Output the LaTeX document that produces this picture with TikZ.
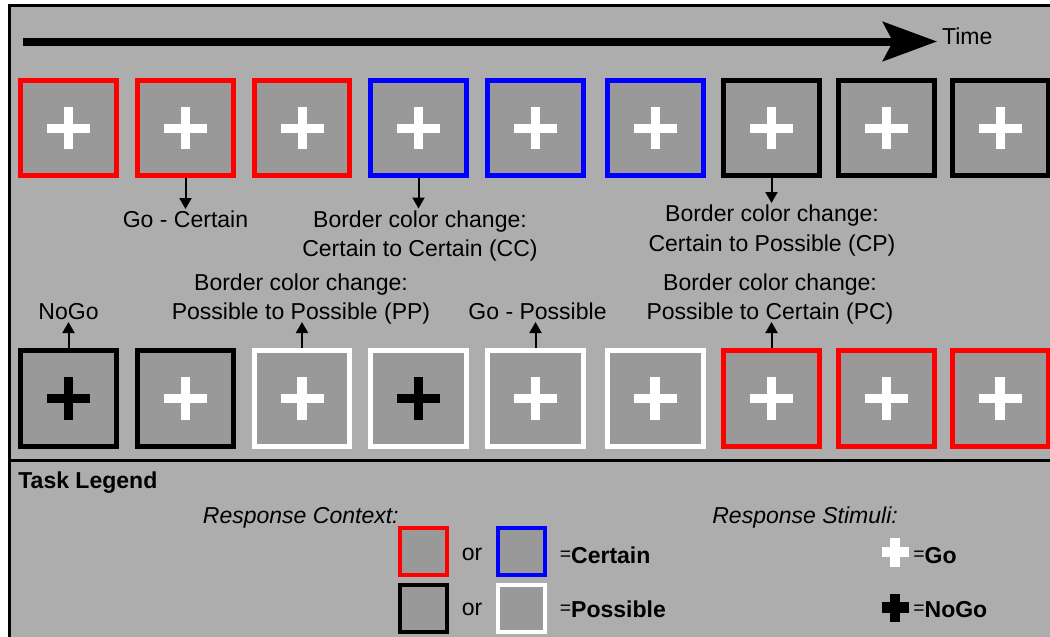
\documentclass[tikz,border=0pt]{standalone}
\usepackage{fontspec}
\setmainfont{Liberation Sans}
\usetikzlibrary{arrows.meta}
\definecolor{panel}{HTML}{ADADAD}
\definecolor{screen}{HTML}{999999}
\newcommand\eqsign{\raisebox{1.2pt}{\fontsize{11}{11}\selectfont=}}
\tikzset{
  screenbox/.style={fill=screen, line width=0.1cm, minimum size=1.92cm, inner sep=0pt},
  keybox/.style={fill=screen, line width=0.08cm, minimum size=0.94cm, inner sep=0pt},
  cue/.style={font=\fontsize{13.1}{16.8}\selectfont, align=center, inner sep=1pt, text depth=0pt},
  pointer/.style={line width=0.04cm, -{Triangle[length=0.22cm,width=0.24cm]}},
  timeline/.style={line width=0.16cm, -{Stealth[length=1.08cm,width=0.78cm,inset=0.2cm]}}
}
\begin{document}
\begin{tikzpicture}[x=0.02cm, y=-0.02cm]
      \useasboundingbox (0,0) rectangle (1050,636);
      \fill[white] (0,0) rectangle (1050,636);
      \fill[panel] (9.5,5.3) rectangle (1052,640);
      \draw[line width=0.06cm] (9.5,640) -- (9.5,5.3) -- (1052,5.3);
      \draw[line width=0.06cm] (9.5,460.5) -- (1052,460.5);
      % time axis
      \coordinate (t0) at (23,41.5);
      \node[cue, anchor=west] (time) at (940,36) {Time};
      \draw[timeline, shorten >=0.06cm] (t0) -- (t0 -| time.west);
      % upper sequence
      \foreach \x/\c [count=\i] in{%
        68.5/red, 185.5/red, 302/red,
        418.5/blue, 535.5/blue, 655/blue,
        771.5/black, 886.5/black, 1000/black%
      }{
        \node[screenbox, draw=\c] (t\i) at (\x,128) {};
        \draw[white, line width=0.18cm] (t\i.center) ++(-0.43cm,0) -- ++(0.86cm,0)
          (t\i.center) ++(0,-0.43cm) -- ++(0,0.86cm);
      }
      % lower sequence
      \foreach \x/\c/\p [count=\i] in{%
        68.5/black/black, 185.5/black/white, 302/white/white,
        418.5/white/black, 535.5/white/white, 655/white/white,
        771.5/red/white, 886.5/red/white, 1000/red/white%
      }{
        \node[screenbox, draw=\c] (b\i) at (\x,398.5) {};
        \draw[\p, line width=0.19cm] (b\i.center) ++(-0.43cm,0) -- ++(0.86cm,0)
          (b\i.center) ++(0,-0.43cm) -- ++(0,0.86cm);
      }
      % event labels
      \node[cue, anchor=north] (gocert) at (185.5,209) {Go - Certain};
      \node[cue, anchor=north] (cc) at (420,208.5) {Border color change:\\Certain to Certain (CC)};
      \node[cue, anchor=north] (cp) at (772,203) {Border color change:\\Certain to Possible (CP)};
      \node[cue, anchor=south] (nogo) at (68.5,322) {NoGo};
      \node[cue, anchor=south] (pp) at (301,322) {Border color change:\\Possible to Possible (PP)};
      \node[cue, anchor=south] (gopos) at (537.5,322) {Go - Possible};
      \node[cue, anchor=south] (pc) at (770,322) {Border color change:\\Possible to Certain (PC)};
      \draw[pointer] (t2.south) -- (t2.south |- gocert.north);
      \draw[pointer] (t4.south) -- (t4.south |- cc.north);
      \draw[pointer] (t7.south) -- (t7.south |- cp.north);
      \draw[pointer] (b1.north) -- (b1.north |- nogo.south);
      \draw[pointer] (b3.north) -- (b3.north |- pp.south);
      \draw[pointer] (b5.north) -- (b5.north |- gopos.south);
      \draw[pointer] (b7.north) -- (b7.north |- pc.south);
      % legend
      \node[cue, anchor=base west, inner sep=0pt] (legend) at (18,488) {\bfseries Task Legend};
      \node[cue, anchor=base east, inner sep=0pt] (context) at (399,523) {\itshape Response Context:};
      \node[cue, anchor=base west, inner sep=0pt] (stimuli) at (712,523) {\itshape Response Stimuli:};
      \foreach \x/\y/\c [count=\i] in{%
        423.5/551.5/red, 521/551.5/blue,
        423.5/608.5/black, 521/608.5/white%
      }{
        \node[keybox, draw=\c] (k\i) at (\x,\y) {};
      }
      \node[cue, anchor=base, inner sep=0pt] (or1) at (472,560) {or};
      \node[cue, anchor=base, inner sep=0pt] (or2) at (472,615) {or};
      \node[cue, anchor=base west, inner sep=0pt] (certain) at (559.5,563) {\eqsign\textbf{Certain}};
      \node[cue, anchor=base west, inner sep=0pt] (possible) at (559.5,617) {\eqsign\textbf{Possible}};
      \coordinate (go) at (895,552);
      \coordinate (nogokey) at (895,607.5);
      \draw[white, line width=0.2cm] (go) ++(-0.27cm,0) -- ++(0.54cm,0)
        (go) ++(0,-0.29cm) -- ++(0,0.58cm);
      \draw[black, line width=0.21cm] (nogokey) ++(-0.27cm,0) -- ++(0.54cm,0)
        (nogokey) ++(0,-0.28cm) -- ++(0,0.56cm);
      \node[cue, anchor=base west, inner sep=0pt] (gotext) at (913,563) {\eqsign\textbf{Go}};
      \node[cue, anchor=base west, inner sep=0pt] (nogotext) at (913,617) {\eqsign\textbf{NoGo}};
    \end{tikzpicture}
\end{document}
